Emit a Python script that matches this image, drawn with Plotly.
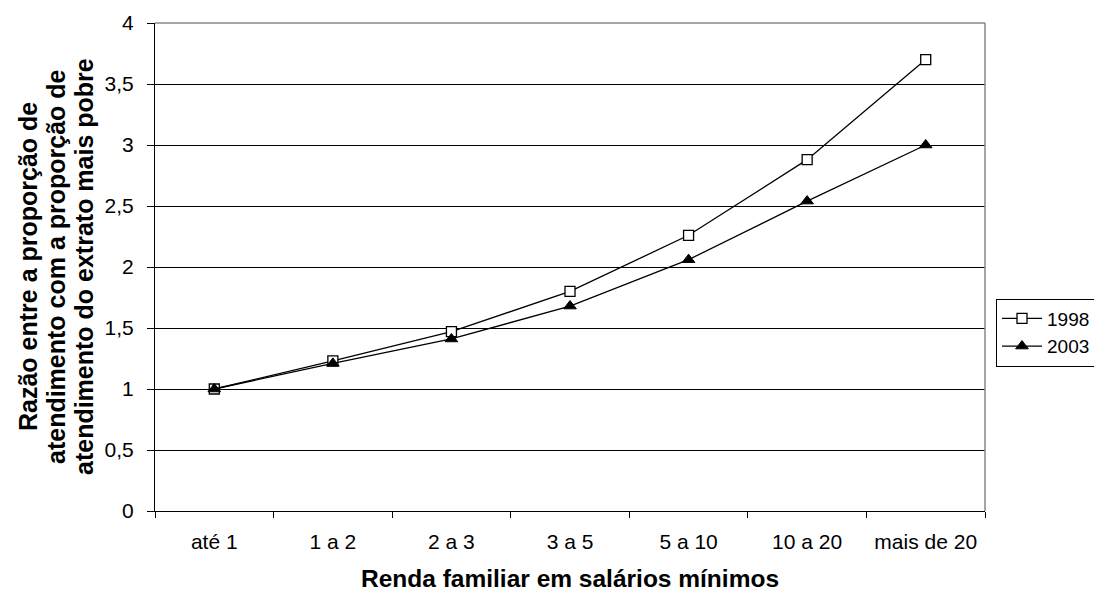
import plotly.graph_objects as go

categories = ["até 1", "1 a 2", "2 a 3", "3 a 5", "5 a 10", "10 a 20", "mais de 20"]
s1998 = [1.0, 1.23, 1.47, 1.80, 2.26, 2.88, 3.70]
s2003 = [1.0, 1.21, 1.41, 1.68, 2.06, 2.54, 3.00]
ytitle_lines = ["Razão entre a proporção de",
                "atendimento com a proporção de",
                "atendimento do extrato mais pobre"]
xtitle = "Renda familiar em salários mínimos"

FONT = "Liberation Sans, Arial, sans-serif"
W, H = 1094, 584   # page body adds an 8px offset
PW, PH = 830, 488  # plot area px
L, T = 147, 15

fig = go.Figure()
fig.add_trace(go.Scatter(
    x=categories, y=s1998, name="1998", mode="lines+markers",
    line=dict(color="black", width=1.3),
    marker=dict(symbol="square", size=10, color="white", line=dict(color="black", width=1.3)),
))
fig.add_trace(go.Scatter(
    x=categories, y=s2003, name="2003", mode="lines+markers",
    line=dict(color="black", width=1.3),
    marker=dict(symbol="triangle-up", size=11, color="black", line=dict(color="black", width=1)),
))

annotations = []
for txt, px in zip(ytitle_lines, [20, 48, 76]):
    annotations.append(dict(
        text="<b>%s</b>" % txt, xref="paper", yref="paper",
        x=(px - L) / PW, y=0.5, xanchor="center", yanchor="middle",
        textangle=-90, showarrow=False, font=dict(size=25, family=FONT, color="black"),
    ))
annotations.append(dict(
    text="<b>%s</b>" % xtitle, xref="paper", yref="paper",
    x=0.5, y=0, xanchor="center", yanchor="middle", yshift=-67,
    showarrow=False, font=dict(size=24.5, family=FONT, color="black"),
))

fig.update_layout(
    width=W, height=H,
    margin=dict(l=L, r=W - L - PW, t=T, b=H - T - PH, pad=0, autoexpand=False),
    paper_bgcolor="white", plot_bgcolor="white",
    separators=",.",
    font=dict(family=FONT, size=21, color="black"),
    showlegend=True,
    legend=dict(
        xref="container", yref="container",
        x=988 / W, xanchor="left", y=1 - 324.5 / H, yanchor="middle",
        bordercolor="black", borderwidth=1, bgcolor="white",
        font=dict(size=19), itemwidth=40, tracegroupgap=0,
    ),
    xaxis=dict(
        type="category", range=[-0.5, 6.5], tickson="boundaries",
        ticks="outside", ticklen=6, tickcolor="black", automargin=False,
        showline=True, linecolor="black", linewidth=1, showgrid=False,
        tickfont=dict(size=21), ticklabelstandoff=12,
    ),
    yaxis=dict(
        range=[0, 4], dtick=0.5, tickformat=".1~f", automargin=False,
        ticks="outside", ticklen=7, tickcolor="black",
        showline=True, linecolor="black", linewidth=1,
        showgrid=True, gridcolor="black", gridwidth=1,
        tickfont=dict(size=21), zeroline=False, ticklabelstandoff=9,
    ),
    annotations=annotations,
    shapes=[
        dict(type="line", xref="paper", yref="paper", x0=1, x1=1, y0=0, y1=1,
             line=dict(color="#888888", width=1.5)),
        dict(type="line", xref="paper", yref="paper", x0=0, x1=1, y0=1, y1=1,
             line=dict(color="#888888", width=1.5)),
    ],
)

fig.write_html("out.html")
